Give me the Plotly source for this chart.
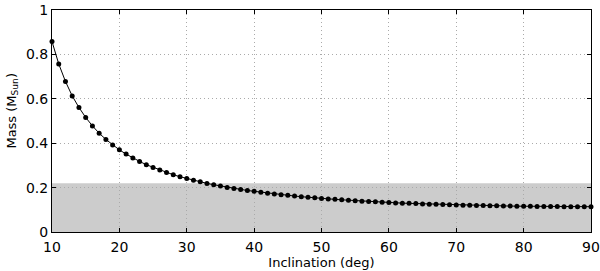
import plotly.graph_objects as go

inclination = list(range(10, 91))
mass = [0.858, 0.757, 0.678, 0.613, 0.561, 0.516, 0.478, 0.445, 0.417, 0.392,
        0.370, 0.351, 0.333, 0.318, 0.303, 0.291, 0.279, 0.268, 0.258, 0.249,
        0.241, 0.233, 0.226, 0.219, 0.213, 0.207, 0.201, 0.196, 0.192, 0.187,
        0.183, 0.179, 0.175, 0.1715, 0.168, 0.165, 0.162, 0.159, 0.156, 0.154,
        0.151, 0.149, 0.147, 0.145, 0.143, 0.141, 0.139, 0.137, 0.136, 0.134,
        0.133, 0.131, 0.130, 0.129, 0.128, 0.1265, 0.1255, 0.1245, 0.1235, 0.1226,
        0.1218, 0.121, 0.1203, 0.1196, 0.1189, 0.1183, 0.1177, 0.1172, 0.1168, 0.1163,
        0.1159, 0.1156, 0.1153, 0.115, 0.1147, 0.1145, 0.1143, 0.1142, 0.1141, 0.114,
        0.114]
band_top = 0.22
x_ticks = [10, 20, 30, 40, 50, 60, 70, 80, 90]
y_ticks = [0, 0.2, 0.4, 0.6, 0.8, 1]
y_tick_labels = ["0", "0.2", "0.4", "0.6", "0.8", "1"]
x_title = "Inclination (deg)"
y_title = "Mass (M<sub>Sun</sub>)"

fig = go.Figure()
fig.add_shape(type="rect", xref="x", yref="y", x0=inclination[0], x1=inclination[-1],
              y0=0, y1=band_top, fillcolor="#cccccc", line_width=0, layer="below")
fig.add_trace(go.Scatter(x=inclination, y=mass, mode="lines+markers",
                         line=dict(color="black", width=1),
                         marker=dict(color="black", size=5),
                         showlegend=False, cliponaxis=False))

family = "DejaVu Sans, Liberation Sans, sans-serif"
font = dict(family=family, size=14, color="black")
title_font = dict(family=family, size=13, color="black")
fig.update_layout(
    width=600, height=271,
    margin=dict(l=52, r=9, t=10, b=39),
    paper_bgcolor="white", plot_bgcolor="white",
    font=font,
)
fig.add_annotation(text=y_title, textangle=-90, xref="paper", yref="paper",
                   x=-0.075, y=0.545, xanchor="center", yanchor="middle",
                   showarrow=False, font=title_font)
fig.update_xaxes(range=[10, 90], tickvals=x_ticks, showgrid=True,
                 gridcolor="#aaaaaa", griddash="1px,3px", gridwidth=1,
                 showline=True, linecolor="black", linewidth=1, mirror="ticks",
                 ticks="inside", ticklen=4, tickcolor="black", automargin=False,
                 zeroline=False, ticklabelstandoff=2,
                 title=dict(text=x_title, standoff=0, font=title_font))
fig.update_yaxes(range=[0, 1], tickvals=y_ticks, ticktext=y_tick_labels, showgrid=True,
                 gridcolor="#aaaaaa", griddash="1px,3px", gridwidth=1,
                 showline=True, linecolor="black", linewidth=1, mirror="ticks",
                 ticks="inside", ticklen=4, tickcolor="black", automargin=False,
                 zeroline=False)

fig.write_html("out.html", config={"displayModeBar": False},
               post_script="document.body.style.margin='0px';")
